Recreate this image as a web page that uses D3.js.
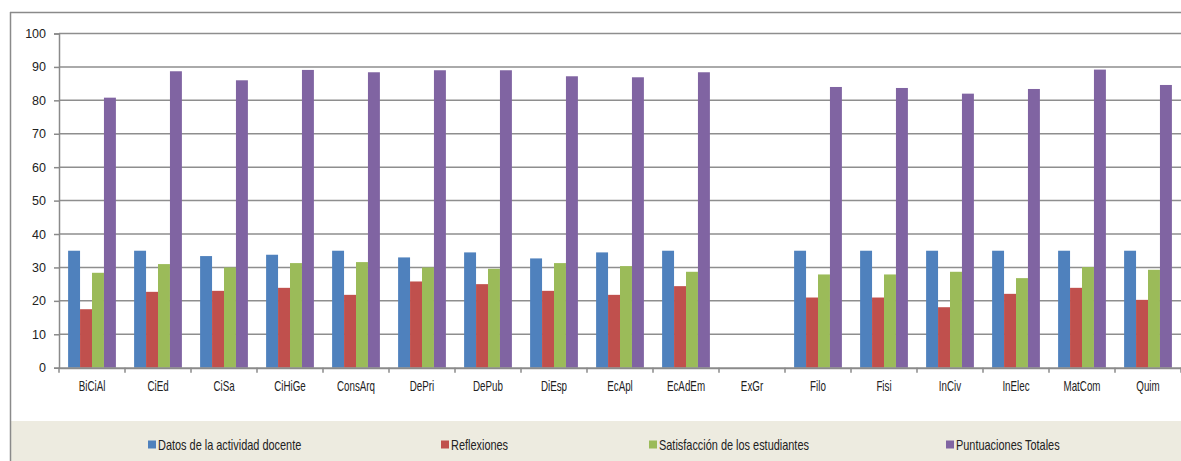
<!DOCTYPE html>
<html>
<head>
<meta charset="utf-8">
<script src="https://cdn.jsdelivr.net/npm/d3@7"></script>
<style>
  body { margin: 0; background: #fff; }
  text { font-family: "Liberation Sans Narrow", "Arial Narrow", "Liberation Sans", sans-serif; fill: #222; }
</style>
</head>
<body>
<div id="chart"></div>
<script>
// chart data
const categories = ["BiCiAl", "CiEd", "CiSa", "CiHiGe", "ConsArq", "DePri", "DePub", "DiEsp", "EcApl",
  "EcAdEm", "ExGr", "Filo", "Fisi", "InCiv", "InElec", "MatCom", "Quim"];
const seriesNames = ["Datos de la actividad docente", "Reflexiones", "Satisfacción de los estudiantes", "Puntuaciones Totales"];
const datos = [35.0, 35.0, 33.4, 33.8, 35.0, 33.0, 34.5, 32.7, 34.5, 35.0, null, 35.0, 35.0, 35.0, 35.0, 35.0, 35.0];
const reflexiones = [17.5, 22.7, 23.0, 23.9, 21.8, 25.8, 25.0, 23.0, 21.8, 24.4, null, 21.0, 21.0, 18.1, 22.1, 23.9, 20.3];
const satisfaccion = [28.4, 31.0, 30.0, 31.3, 31.6, 30.0, 29.6, 31.3, 30.4, 28.7, null, 27.9, 27.9, 28.7, 26.8, 30.1, 29.3];
const totales = [80.8, 88.7, 86.0, 89.1, 88.4, 89.0, 89.0, 87.2, 86.9, 88.4, null, 84.0, 83.7, 82.0, 83.4, 89.2, 84.6];
const yTicks = [0, 10, 20, 30, 40, 50, 60, 70, 80, 90, 100];
const colors = ["#4F81BD", "#C0504D", "#9BBB59", "#8064A2"];

const W = 1181, H = 461;
const plot = {left: 59, top: 33.5, bottom: 367.7, right: 59 + 66 * categories.length};

const svg = d3.select("#chart").append("svg")
  .attr("width", W).attr("height", H);

// frame and legend background
svg.append("rect")
  .attr("x", 11).attr("y", 421).attr("width", W - 11).attr("height", H - 421)
  .attr("fill", "#EDEBE0");
svg.append("line")
  .attr("x1", 10.5).attr("x2", 10.5).attr("y1", 12).attr("y2", H)
  .attr("stroke", "#8a8a8a").attr("stroke-width", 1.5);
svg.append("line")
  .attr("x1", 10).attr("x2", W).attr("y1", 12.5).attr("y2", 12.5)
  .attr("stroke", "#8a8a8a").attr("stroke-width", 1.5);

let x = d3.scaleBand()
  .domain(categories)
  .range([plot.left, plot.right])
  .paddingInner(0).paddingOuter(0);

let xInner = d3.scaleBand()
  .domain(d3.range(seriesNames.length))
  .range([9.1, x.bandwidth() - 9.1]);

let y = d3.scaleLinear()
  .domain([0, 100])
  .range([plot.bottom, plot.top]);

// gridlines
svg.append("g")
  .selectAll("line")
  .data(yTicks.filter(d => d > 0))
  .enter()
  .append("line")
  .attr("x1", plot.left).attr("x2", W)
  .attr("y1", d => y(d)).attr("y2", d => y(d))
  .attr("stroke", "#8e8e8e").attr("stroke-width", 1.5);

// bars
const series = [datos, reflexiones, satisfaccion, totales];
let groups = svg.append("g")
  .selectAll("g")
  .data(categories)
  .enter()
  .append("g")
  .attr("transform", d => `translate(${x(d)},0)`);

groups.selectAll("rect")
  .data((d, i) => series.map((s, k) => ({k: k, v: s[i]})).filter(o => o.v != null))
  .enter()
  .append("rect")
  .attr("x", d => xInner(d.k))
  .attr("width", xInner.bandwidth())
  .attr("y", d => y(d.v))
  .attr("height", d => y(0) - y(d.v))
  .attr("fill", d => colors[d.k]);

// y axis
let yAxis = svg.append("g")
  .attr("transform", `translate(${plot.left},0)`)
  .call(d3.axisLeft(y).tickValues(yTicks).tickSize(5).tickPadding(8));
yAxis.select(".domain").attr("stroke", "#8a8a8a").attr("stroke-width", 1.5);
yAxis.selectAll(".tick line").attr("stroke", "#8a8a8a").attr("stroke-width", 1.5);
yAxis.selectAll("text").style("font-size", "12.5px").attr("fill", "#222");

// x axis (labels squeezed to mimic the narrow font)
let xAxis = svg.append("g")
  .attr("transform", `translate(0,${plot.bottom})`)
  .call(d3.axisBottom(x).tickSize(0).tickPadding(13));
xAxis.select(".domain").attr("stroke", "#8a8a8a").attr("stroke-width", 2);
xAxis.selectAll("text")
  .style("font-size", "14px").attr("fill", "#222")
  .attr("transform", "scale(0.7,1)");
xAxis.append("g")
  .selectAll("line")
  .data(categories.concat([null]))
  .enter()
  .append("line")
  .attr("x1", (d, i) => plot.left + i * x.bandwidth())
  .attr("x2", (d, i) => plot.left + i * x.bandwidth())
  .attr("y1", 0).attr("y2", 5)
  .attr("stroke", "#8a8a8a").attr("stroke-width", 1.5);

// legend
const legendX = [148, 441, 649, 946];
let legend = svg.append("g")
  .selectAll("g")
  .data(seriesNames)
  .enter()
  .append("g")
  .attr("transform", (d, i) => `translate(${legendX[i]},445)`);
legend.append("rect")
  .attr("x", 0).attr("y", -4.5).attr("width", 8).attr("height", 8)
  .attr("fill", (d, i) => colors[i]);
legend.append("text")
  .attr("transform", "translate(10,0) scale(0.77,1)")
  .attr("dy", "0.35em")
  .style("font-size", "14.2px")
  .text(d => d);
</script>
</body>
</html>
